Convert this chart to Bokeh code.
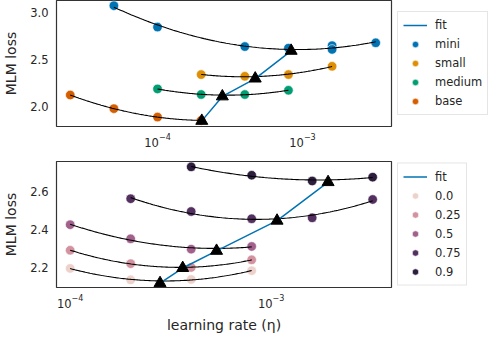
import numpy as np
from bokeh.plotting import figure
from bokeh.models import Legend, LegendItem, FixedTicker, LogTickFormatter
from bokeh.layouts import column
from bokeh.embed import file_html
from bokeh.resources import INLINE

# ---------------- data: top panel (model size) ----------------
size_names = ["mini", "small", "medium", "base"]
size_colors = ["#0173b2", "#de8f05", "#029e73", "#d55e00"]
lr_mini = [5e-5, 1e-4, 4e-4, 8e-4, 1.6e-3, 1.6e-3, 3.2e-3]
loss_mini = [3.075, 2.847, 2.64, 2.623, 2.65, 2.61, 2.68]
lr_small = [2e-4, 4e-4, 8e-4, 1.6e-3]
loss_small = [2.342, 2.324, 2.342, 2.43]
lr_medium = [1e-4, 2e-4, 4e-4, 8e-4]
loss_medium = [2.19, 2.13, 2.13, 2.175]
lr_base = [2.5e-5, 5e-5, 1e-4, 2e-4]
loss_base = [2.125, 1.98, 1.89, 1.855]
opt_lr_size = [2.02e-4, 2.8e-4, 4.72e-4, 8.35e-4]
opt_loss_size = [1.85, 2.11, 2.30, 2.595]

# ---------------- data: bottom panel ----------------
p_names = ["0.0", "0.25", "0.5", "0.75", "0.9"]
p_colors = ["#edd1cb", "#d3929f", "#a2618c", "#53305f", "#2d1e3e"]
lr_p00 = [1e-4, 2e-4, 4e-4, 8e-4]
loss_p00 = [2.195, 2.135, 2.137, 2.183]
lr_p25 = [1e-4, 2e-4, 4e-4, 8e-4]
loss_p25 = [2.29, 2.22, 2.20, 2.24]
lr_p50 = [1e-4, 2e-4, 4e-4, 8e-4]
loss_p50 = [2.424, 2.35, 2.296, 2.31]
lr_p75 = [2e-4, 4e-4, 8e-4, 1.6e-3, 3.2e-3]
loss_p75 = [2.56, 2.493, 2.455, 2.46, 2.556]
lr_p90 = [4e-4, 8e-4, 1.6e-3, 3.2e-3]
loss_p90 = [2.727, 2.683, 2.653, 2.673]
opt_lr_p = [2.8e-4, 3.63e-4, 5.35e-4, 1.07e-3, 1.92e-3]
opt_loss_p = [2.118, 2.197, 2.287, 2.445, 2.647]

x_ticks = [1e-4, 1e-3]
top_y_ticks = [2.0, 2.5, 3.0]
top_y_labels = {2.0: "2.0", 2.5: "2.5", 3.0: "3.0"}
bot_y_ticks = [2.2, 2.4, 2.6]
bot_y_labels = {2.2: "2.2", 2.4: "2.4", 2.6: "2.6"}

FONT = "DejaVu Sans"
TXT = "#262626"


def quad_fit(lr, loss):
    lx = np.log10(lr)
    c = np.polyfit(lx, loss, 2)
    xs = np.linspace(lx.min(), lx.max(), 120)
    return 10 ** xs, np.polyval(c, xs)


def make_fig(xr, yr, yticks, ylabels, bottom_border, xlabel=None):
    p = figure(x_axis_type="log", x_range=xr, y_range=yr,
               frame_width=335, frame_height=126,
               min_border_left=44, min_border_top=0,
               min_border_bottom=bottom_border, min_border_right=0,
               output_backend="svg", toolbar_location=None,
               background_fill_color="white", border_fill_color="white")
    p.grid.visible = False
    p.outline_line_color = "#333333"
    p.outline_line_width = 1.2
    p.xaxis.ticker = FixedTicker(ticks=x_ticks, minor_ticks=[])
    p.xaxis.formatter = LogTickFormatter()
    p.yaxis.ticker = FixedTicker(ticks=yticks, minor_ticks=[])
    p.yaxis.major_label_overrides = ylabels
    for ax in (p.xaxis, p.yaxis):
        ax.axis_line_color = None
        ax.major_tick_line_color = None
        ax.minor_tick_line_color = None
        ax.major_tick_out = 0
        ax.major_tick_in = 0
        ax.major_label_standoff = 8
        ax.major_label_text_font = FONT
        ax.major_label_text_font_size = "11.5px"
        ax.major_label_text_color = TXT
        ax.axis_label_text_font = FONT
        ax.axis_label_text_font_size = "14px"
        ax.axis_label_text_font_style = "normal"
        ax.axis_label_text_color = TXT
        ax.axis_label_standoff = 8
    p.xaxis.major_label_standoff = 6
    p.yaxis.axis_label = "MLM loss"
    if xlabel:
        p.xaxis.axis_label = xlabel
        p.xaxis.axis_label_standoff = 6
    return p


def style_legend(items):
    lg = Legend(items=items, location="center_left")
    lg.label_text_font = FONT
    lg.label_text_font_size = "11.5px"
    lg.label_text_color = TXT
    lg.glyph_width = 24
    lg.glyph_height = 16
    lg.label_height = 16
    lg.label_standoff = 8
    lg.spacing = 3
    lg.padding = 5
    lg.margin = 6
    lg.border_line_color = "#cccccc"
    lg.border_line_width = 1
    lg.background_fill_color = "white"
    lg.background_fill_alpha = 1
    return lg


def fill_panel(p, series, names, colors, opt_lr, opt_loss):
    scat = []
    for (lr, loss), c in zip(series, colors):
        r = p.scatter(lr, loss, size=9.5, fill_color=c, line_color="white",
                      line_width=0.6, marker="circle")
        scat.append(r)
    for lr, loss in series:
        fx, fy = quad_fit(np.array(lr), np.array(loss))
        p.line(fx, fy, line_color="black", line_width=1.1)
    fit_r = p.line(opt_lr, opt_loss, line_color="#0173b2", line_width=1.5)
    p.scatter(opt_lr, opt_loss, marker="triangle", size=12,
              fill_color="black", line_color="black")
    items = [LegendItem(label="fit", renderers=[fit_r])]
    for n, r in zip(names, scat):
        items.append(LegendItem(label=n, renderers=[r]))
    p.add_layout(style_legend(items), "right")


p1 = make_fig((2.01e-5, 4.11e-3), (1.79, 3.13), top_y_ticks, top_y_labels, 35)
fill_panel(p1,
           [(lr_mini, loss_mini), (lr_small, loss_small),
            (lr_medium, loss_medium), (lr_base, loss_base)],
           size_names, size_colors, opt_lr_size, opt_loss_size)

p2 = make_fig((8.55e-5, 3.97e-3), (2.095, 2.755), bot_y_ticks, bot_y_labels, 45,
              xlabel="learning rate (\u03b7)")
fill_panel(p2,
           [(lr_p00, loss_p00), (lr_p25, loss_p25), (lr_p50, loss_p50),
            (lr_p75, loss_p75), (lr_p90, loss_p90)],
           p_names, p_colors, opt_lr_p, opt_loss_p)

layout = column(p1, p2, spacing=0)
open("out.html", "w").write(file_html(layout, INLINE))
